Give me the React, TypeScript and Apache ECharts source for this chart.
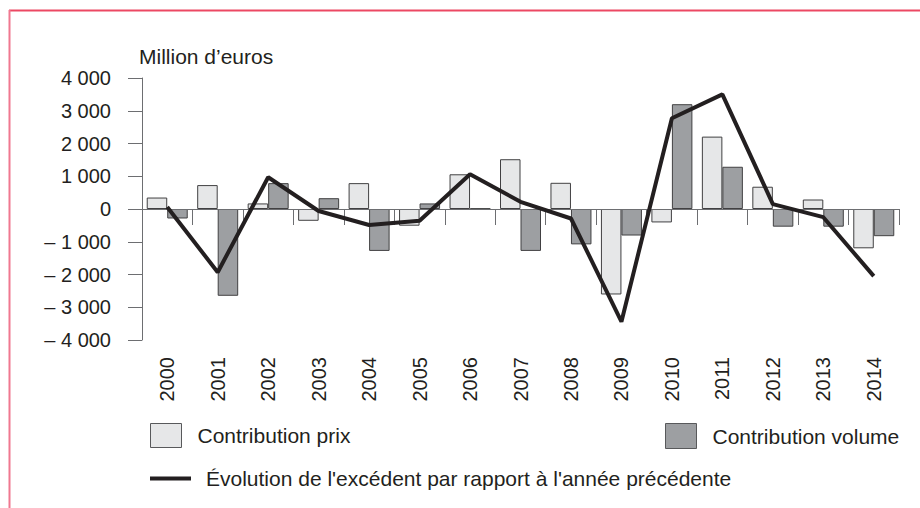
import React, { useEffect, useRef } from "react";
import * as echarts from "echarts";

const years = ["2000","2001","2002","2003","2004","2005","2006","2007","2008","2009","2010","2011","2012","2013","2014"];
const contributionPrix = [350, 730, 170, -360, 790, -510, 1060, 1520, 800, -2610, -410, 2210, 680, 290, -1200];
const contributionVolume = [-290, -2650, 790, 330, -1280, 170, 15, -1280, -1080, -810, 3200, 1290, -540, -540, -830];
const evolution = [60, -1930, 970, -60, -490, -360, 1060, 220, -290, -3440, 2770, 3500, 150, -250, -2050];

const FONT = "'Liberation Sans', Arial, sans-serif";
const TEXT = "#231f20";
const AXIS = "#6d6e71";

function fmt(v: number): string {
  const a = Math.abs(v);
  const s = a >= 1000 ? Math.floor(a / 1000) + " " + String(a % 1000).padStart(3, "0") : String(a);
  return v < 0 ? "\u2013 " + s : s;
}

export default function App() {
  const ref = useRef<HTMLDivElement>(null);
  useEffect(() => {
    if (!ref.current) return;
    const chart = echarts.init(ref.current, null, { renderer: "svg" });
    chart.setOption({
      animation: false,
      backgroundColor: "#ffffff",
      textStyle: { fontFamily: FONT, color: TEXT },
      title: {
        text: "Million d\u2019euros",
        left: 139,
        top: 46,
        padding: 0,
        textStyle: { fontFamily: FONT, fontSize: 21, fontWeight: "normal", color: TEXT },
      },
      graphic: [
        { type: "line", shape: { x1: 9, y1: 10.5, x2: 920, y2: 10.5 }, style: { stroke: "#ec4863", lineWidth: 2 } },
        { type: "line", shape: { x1: 9.5, y1: 10, x2: 9.5, y2: 508 }, style: { stroke: "#f07890", lineWidth: 2 } },
      ],
      legend: [
        {
          data: [{ name: "Contribution prix", icon: "rect" }],
          left: 150,
          top: 423,
          padding: 0,
          itemWidth: 31,
          itemHeight: 24,
          itemStyle: { borderColor: "#58595b", borderWidth: 1 },
          textStyle: { fontFamily: FONT, fontSize: 21, color: TEXT, padding: [0, 0, 0, 11] },
          selectedMode: false,
        },
        {
          data: [{ name: "Contribution volume", icon: "rect" }],
          left: 665,
          top: 423,
          padding: 0,
          itemWidth: 31,
          itemHeight: 25,
          itemStyle: { borderColor: "#58595b", borderWidth: 1 },
          textStyle: { fontFamily: FONT, fontSize: 21, color: TEXT, padding: [0, 0, 0, 11] },
          selectedMode: false,
        },
        {
          data: [{ name: "\u00c9volution de l'exc\u00e9dent par rapport \u00e0 l'ann\u00e9e pr\u00e9c\u00e9dente", icon: "rect" }],
          left: 150,
          top: 468,
          padding: 0,
          itemWidth: 41,
          itemHeight: 4,
          textStyle: { fontFamily: FONT, fontSize: 21, color: TEXT, padding: [0, 0, 0, 10] },
          selectedMode: false,
        },
      ],
      grid: { left: 142, right: 21, top: 78, bottom: 168, containLabel: false },
      xAxis: [
        {
          type: "category",
          data: years,
          position: "bottom",
          axisLine: { show: false, onZero: false },
          axisTick: { show: false },
          axisLabel: { interval: 0, rotate: 90, margin: 17, fontSize: 20, fontFamily: FONT, color: TEXT },
        },
        {
          type: "category",
          data: years,
          position: "top",
          axisLine: { show: true, onZero: true, lineStyle: { color: AXIS, width: 1 } },
          axisTick: { show: true, inside: true, length: 16, lineStyle: { color: AXIS, width: 1 } },
          axisLabel: { show: false },
          z: 5,
        },
      ],
      yAxis: {
        type: "value",
        min: -4000,
        max: 4000,
        interval: 1000,
        splitLine: { show: false },
        axisLine: { show: true, lineStyle: { color: AXIS, width: 1 } },
        axisTick: { show: true, length: 14, lineStyle: { color: AXIS, width: 1 } },
        axisLabel: { margin: 31, fontSize: 20, fontFamily: FONT, color: TEXT, formatter: (v: number) => fmt(v) },
      },
      series: [
        {
          name: "Contribution prix",
          type: "bar",
          xAxisIndex: 0,
          data: contributionPrix,
          barWidth: 20.5,
          barGap: "0%",
          itemStyle: { color: "#e6e7e8", borderColor: "#414042", borderWidth: 1 },
        },
        {
          name: "Contribution volume",
          type: "bar",
          xAxisIndex: 0,
          data: contributionVolume,
          barWidth: 20.5,
          barGap: "0%",
          itemStyle: { color: "#9d9fa2", borderColor: "#414042", borderWidth: 1 },
        },
        {
          name: "\u00c9volution de l'exc\u00e9dent par rapport \u00e0 l'ann\u00e9e pr\u00e9c\u00e9dente",
          type: "line",
          xAxisIndex: 0,
          data: evolution,
          symbol: "none",
          lineStyle: { color: "#231f20", width: 4 },
          itemStyle: { color: "#231f20" },
          z: 10,
        },
      ],
    });
    return () => chart.dispose();
  }, []);
  return <div ref={ref} style={{ position: "absolute", left: 0, top: 0, width: 920, height: 508 }} />;
}
